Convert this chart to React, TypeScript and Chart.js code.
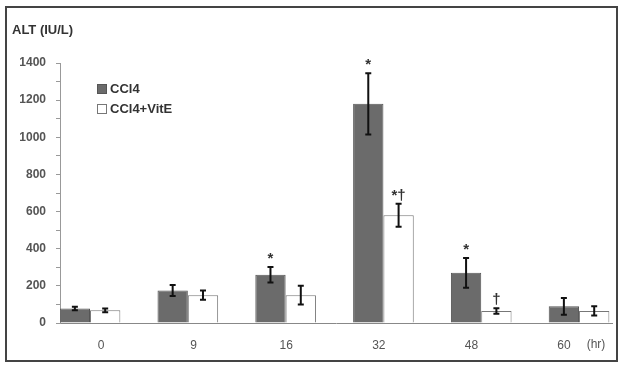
import React, { useEffect, useRef } from "react";
import { Chart, registerables } from "chart.js";

Chart.register(...registerables);

const categories = ["0", "9", "16", "32", "48", "60"];
const ccl4 = [78, 175, 260, 1180, 270, 90];
const ccl4Err = [10, 30, 42, 165, 80, 45];
const vitE = [68, 150, 150, 580, 65, 65];
const vitEErr = [10, 25, 50, 62, 15, 25];
const ccl4Marks = ["", "", "*", "*", "*", ""];
const vitEMarks = ["", "", "", "*†", "†", ""];
const seriesNames = ["CCl4", "CCl4+VitE"];
const yTitle = "ALT (IU/L)";
const xUnit = "(hr)";

const FONT = '"Liberation Sans", Arial, sans-serif';

const extrasPlugin = {
  id: "extras",
  afterDatasetsDraw(chart: any) {
    const ctx = chart.ctx;
    const y = chart.scales.y;
    const errs = [ccl4Err, vitEErr];
    const vals = [ccl4, vitE];
    const marks = [ccl4Marks, vitEMarks];
    ctx.save();
    for (let d = 0; d < 2; d++) {
      const meta = chart.getDatasetMeta(d);
      meta.data.forEach((el: any, i: number) => {
        const top = y.getPixelForValue(vals[d][i] + errs[d][i]);
        const bot = y.getPixelForValue(vals[d][i] - errs[d][i]);
        ctx.strokeStyle = "#111";
        ctx.lineWidth = 2;
        ctx.beginPath();
        ctx.moveTo(el.x, top);
        ctx.lineTo(el.x, bot);
        ctx.moveTo(el.x - 3, top);
        ctx.lineTo(el.x + 3, top);
        ctx.moveTo(el.x - 3, bot);
        ctx.lineTo(el.x + 3, bot);
        ctx.stroke();
        const m = marks[d][i];
        if (m) {
          ctx.fillStyle = "#333";
          ctx.font = `bold 15px ${FONT}`;
          ctx.textAlign = "center";
          ctx.textBaseline = "middle";
          ctx.fillText(m, el.x, top - 8);
        }
      });
    }
    ctx.restore();
  },
  afterDraw(chart: any) {
    const ctx = chart.ctx;
    ctx.save();
    ctx.fillStyle = "#333";
    ctx.font = `bold 13px ${FONT}`;
    ctx.textAlign = "left";
    ctx.textBaseline = "middle";
    ctx.fillText(yTitle, 12, 30);
    // legend
    const lx = 97;
    const ly = [89, 109];
    const fills = ["#6b6b6b", "#ffffff"];
    const strokes = ["#555", "#777"];
    for (let k = 0; k < 2; k++) {
      ctx.fillStyle = fills[k];
      ctx.fillRect(lx, ly[k] - 5, 10, 10);
      ctx.strokeStyle = strokes[k];
      ctx.lineWidth = 1;
      ctx.strokeRect(lx + 0.5, ly[k] - 4.5, 9, 9);
      ctx.fillStyle = "#333";
      ctx.font = `bold 13px ${FONT}`;
      ctx.fillText(seriesNames[k], lx + 13, ly[k]);
    }
    ctx.fillStyle = "#555";
    ctx.font = `12px ${FONT}`;
    ctx.textAlign = "center";
    ctx.fillText(xUnit, 596, 345);
    ctx.restore();
  },
};

export default function App() {
  const ref = useRef<HTMLCanvasElement>(null);
  useEffect(() => {
    if (!ref.current) return;
    const chart = new Chart(ref.current, {
      type: "bar",
      data: {
        datasets: [
          {
            label: seriesNames[0],
            data: ccl4.map((v, i) => ({ x: i, y: v })),
            backgroundColor: "#6b6b6b",
            borderColor: "#555",
            borderWidth: 1,
            barPercentage: 1,
            categoryPercentage: 0.62,
            xAxisID: "x",
          },
          {
            label: seriesNames[1],
            data: vitE.map((v, i) => ({ x: i, y: v })),
            backgroundColor: "#ffffff",
            borderColor: "#777",
            borderWidth: 1,
            barPercentage: 1,
            categoryPercentage: 0.62,
            xAxisID: "x",
          },
        ],
      },
      options: {
        responsive: false,
        animation: false,
        devicePixelRatio: 1,
        layout: { padding: { left: 8, right: 10, top: 63, bottom: 9 } },
        plugins: { legend: { display: false }, tooltip: { enabled: false }, title: { display: false } },
        scales: {
          x: {
            type: "linear",
            display: false,
            min: -0.307,
            max: 5.337,
            offset: false,
          },
          xl: {
            type: "linear",
            position: "bottom",
            min: -0.4428,
            max: 5.518,
            offset: false,
            afterBuildTicks: (axis: any) => {
              axis.ticks = categories.map((_, i) => ({ value: i }));
            },
            afterFit: (s: any) => {
              s.height = 40;
            },
            grid: { display: false, drawTicks: false },
            border: { display: true, color: "#888", width: 1 },
            ticks: {
              padding: 15,
              color: "#555",
              font: { family: FONT, size: 12 },
              maxRotation: 0,
              autoSkip: false,
              callback: (v: any) => categories[Math.round(Number(v))] ?? "",
            },
          },
          y: {
            min: 0,
            max: 1400,
            afterFit: (s: any) => {
              s.width = 52;
            },
            grid: { display: true, drawOnChartArea: false, drawTicks: true, tickLength: 4, color: "#999" },
            border: { display: true, color: "#999", width: 1 },
            ticks: {
              stepSize: 100,
              padding: 10,
              color: "#555",
              font: { family: FONT, size: 12, weight: "bold" },
              callback: (v: any) => (Number(v) % 200 === 0 ? String(v) : ""),
            },
          },
        },
      } as any,
      plugins: [extrasPlugin],
    });
    return () => chart.destroy();
  }, []);
  return (
    <div style={{ position: "absolute", left: 0, top: 0, width: 622, height: 372, background: "#fff" }}>
      <canvas ref={ref} width={622} height={372} style={{ position: "absolute", left: 0, top: 0 }} />
      <div
        style={{
          position: "absolute",
          left: 5,
          top: 6,
          width: 613,
          height: 356,
          boxSizing: "border-box",
          border: "2px solid #444",
          pointerEvents: "none",
        }}
      />
    </div>
  );
}
